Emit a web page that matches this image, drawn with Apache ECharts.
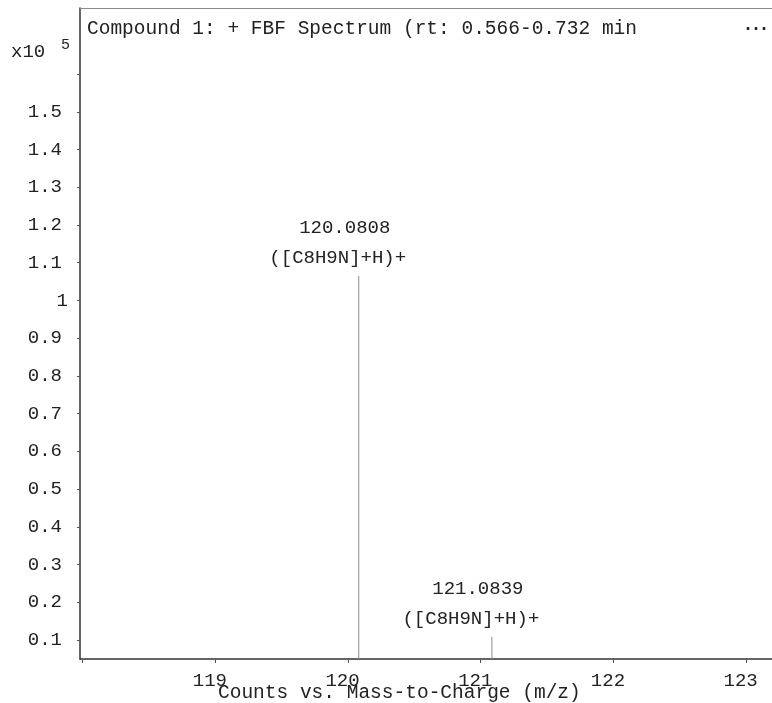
<!DOCTYPE html>
<html><head><meta charset="utf-8">
<script src="https://cdn.jsdelivr.net/npm/echarts@6/dist/echarts.min.js"></script>
<style>html,body{margin:0;padding:0;background:#fff}#c{width:772px;height:703px}</style>
</head><body><div id="c"></div>
<script>
// ---- data ----
const peakMz = [120.0808, 121.0839];
const peakIntensity = [1.065, 0.109]; // x10^5 counts
const peakFormula = ['([C8H9N]+H)+', '([C8H9N]+H)+'];
const xTickValues = [118, 119, 120, 121, 122, 123];
const xLabelValues = [119, 120, 121, 122, 123];
const yTickValues = [0.1, 0.2, 0.3, 0.4, 0.5, 0.6, 0.7, 0.8, 0.9, 1, 1.1, 1.2, 1.3, 1.4, 1.5, 1.6];
const yLabelValues = [0.1, 0.2, 0.3, 0.4, 0.5, 0.6, 0.7, 0.8, 0.9, 1, 1.1, 1.2, 1.3, 1.4, 1.5];
const titleText = 'Compound 1: + FBF Spectrum (rt: 0.566-0.732 min';
const xAxisTitle = 'Counts vs. Mass-to-Charge (m/z)';
const yScaleText = 'x10';
const yScaleExp = '5';

const X_MIN = 117.98, X_MAX = 123.195;
const FONT = '"Liberation Mono", "DejaVu Sans Mono", monospace';
const chart = echarts.init(document.getElementById('c'), null, {renderer: 'canvas'});
chart.setOption({
  animation: false,
  backgroundColor: '#fff',
  grid: {left: 80, top: 8, right: 0, bottom: 44},
  xAxis: [{
    type: 'value', min: X_MIN, max: X_MAX,
    axisLine: {lineStyle: {color: '#333', width: 1.5}},
    axisTick: {show: true, length: 4, customValues: xTickValues, lineStyle: {color: '#555'}},
    axisLabel: {customValues: xLabelValues, fontFamily: FONT, fontSize: 19, color: '#222', margin: 12,
      padding: [0, 11, 0, 0], formatter: v => String(v)},
    splitLine: {show: false}
  }, {
    type: 'value', position: 'top', min: X_MIN, max: X_MAX,
    axisLine: {show: true, lineStyle: {color: '#8a8a8a', width: 1}},
    axisTick: {show: false}, axisLabel: {show: false}, splitLine: {show: false}
  }],
  yAxis: {
    type: 'value', min: 0.05, max: 1.775,
    axisLine: {show: true, lineStyle: {color: '#333', width: 1.5}},
    axisTick: {show: true, length: 3, customValues: yTickValues, lineStyle: {color: '#555'}},
    axisLabel: {customValues: yLabelValues, fontFamily: FONT, fontSize: 19, color: '#222', margin: 12,
      formatter: v => (Math.abs(v - 1) < 1e-9 ? '{o|1}' : '{n|' + v.toFixed(1) + '}'),
      rich: {
        n: {fontFamily: FONT, fontSize: 19, color: '#222', padding: [0, 6, 0, 0]},
        o: {fontFamily: FONT, fontSize: 19, color: '#222'}
      }},
    splitLine: {show: false}
  },
  series: [{
    type: 'bar',
    xAxisIndex: 0,
    barWidth: 1,
    itemStyle: {color: '#8c8c8c'},
    data: peakMz.map((m, i) => ({value: [m, peakIntensity[i]], formula: peakFormula[i]})),
    label: {
      show: true, position: 'top', distance: 3, offset: [-21, 0],
      formatter: p => '{a|' + p.value[0].toFixed(4) + '}\n{b|' + p.data.formula + '}',
      rich: {
        a: {fontFamily: FONT, fontSize: 19, lineHeight: 30, color: '#222', padding: [0, 0, 0, 14]},
        b: {fontFamily: FONT, fontSize: 19, lineHeight: 30, color: '#222'}
      }
    }
  }],
  graphic: [
    {type: 'text', left: 87, top: 19, style: {text: titleText, font: '19.5px ' + FONT, fill: '#222'}},
    {type: 'text', left: 744, top: 12, style: {text: '\u2026', font: '24px "DejaVu Sans"', fill: '#222'}},
    {type: 'text', left: 11, top: 42, style: {text: yScaleText, font: '19px ' + FONT, fill: '#222'}},
    {type: 'text', left: 61, top: 38, style: {text: yScaleExp, font: '15px ' + FONT, fill: '#222'}},
    {type: 'text', left: 218, top: 683, style: {text: xAxisTitle, font: '19.5px ' + FONT, fill: '#222'}}
  ]
});
</script></body></html>
